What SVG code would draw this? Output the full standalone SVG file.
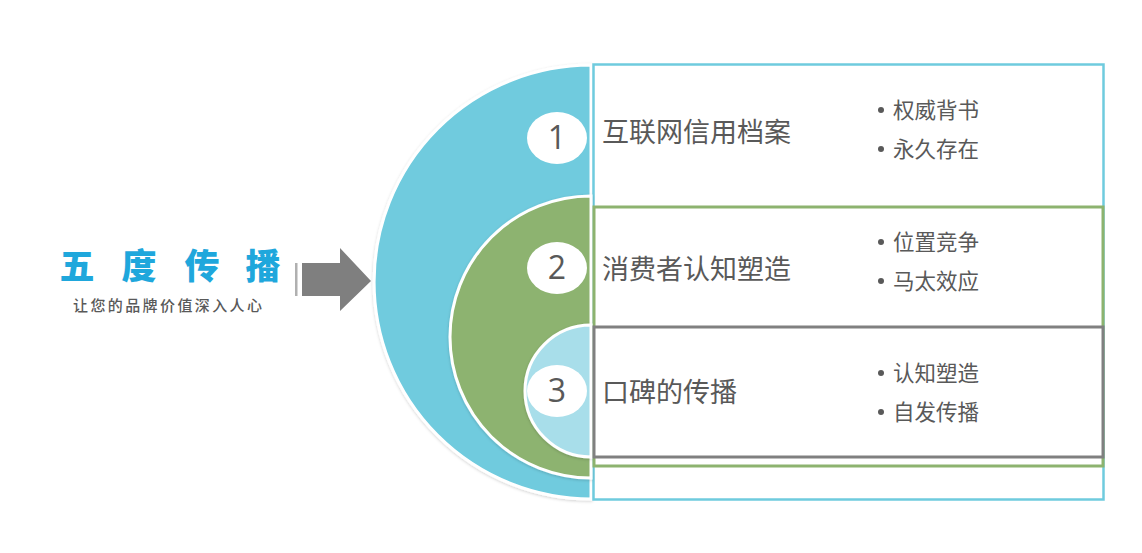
<svg xmlns="http://www.w3.org/2000/svg" width="1142" height="553" viewBox="0 0 1142 553">
<style>
.t{font-family:"Liberation Sans","Noto Sans CJK SC",sans-serif;fill:#595959}
.title{font-size:27px}
.bul{font-size:21.5px}
.num{font-family:"Open Sans","Liberation Sans",sans-serif;font-size:32px;fill:#595959;text-anchor:middle}
.disc{stroke:#fff;stroke-width:3}
.oval{fill:#fff}
.dot{fill:#595959}
.head{font-family:"Noto Sans CJK SC",sans-serif;font-weight:900;font-size:35px;fill:#1FA7DC;text-anchor:middle}
</style>
<defs>
<filter id="sh" x="-10%" y="-10%" width="120%" height="120%">
<feDropShadow dx="0" dy="1" stdDeviation="1.5" flood-color="#000" flood-opacity="0.18"/>
</filter>
</defs>
<rect width="1142" height="553" fill="#fff"/>
<g id="title">
<text class="head" x="77" y="279">五</text>
<text class="head" x="139" y="279">度</text>
<text class="head" x="202" y="279">传</text>
<text class="head" x="263" y="279">播</text>
<text x="73" y="311" style="font-size:15px;letter-spacing:2.4px;font-family:'Noto Sans CJK SC',sans-serif;font-weight:500;fill:#595959">让您的品牌价值深入人心</text>
</g>
<g id="arrow">
<rect x="295" y="263" width="2.5" height="33" fill="#b0b0b0"/>
<path d="M302,263 H340 V248 L371,281 L340,311 V296 H302 Z" fill="#7f7f7f"/>
</g>
<g id="node1">
<path class="disc" d="M591,65 A217,217 0 0 0 591,499 Z" fill="#6FCBDE" filter="url(#sh)"/>
<rect x="593.5" y="64.5" width="510" height="435" fill="#fff" stroke="#6FCBDE" stroke-width="2.5"/>
<ellipse class="oval" cx="557" cy="138" rx="30" ry="26"/>
<text class="num" x="557" y="149">1</text>
<text class="t title" x="602" y="142">互联网信用档案</text>
<circle class="dot" cx="881" cy="110" r="3"/>
<text class="t bul" x="893" y="118">权威背书</text>
<circle class="dot" cx="881" cy="149" r="3"/>
<text class="t bul" x="893" y="157">永久存在</text>
</g>
<g id="node2">
<path class="disc" d="M591,196 A141,141 0 0 0 591,478 Z" fill="#8DB36F" filter="url(#sh)"/>
<rect x="594" y="207" width="509" height="259" fill="#fff" stroke="#8DB36F" stroke-width="3"/>
<ellipse class="oval" cx="557" cy="268" rx="30" ry="26"/>
<text class="num" x="557" y="279">2</text>
<text class="t title" x="602" y="279">消费者认知塑造</text>
<circle class="dot" cx="881" cy="242" r="3"/>
<text class="t bul" x="893" y="250">位置竞争</text>
<circle class="dot" cx="881" cy="281" r="3"/>
<text class="t bul" x="893" y="289">马太效应</text>
</g>
<g id="node3">
<path class="disc" d="M591,325 A66,66 0 0 0 591,457 Z" fill="#A8DEEA" filter="url(#sh)"/>
<rect x="594" y="327" width="509" height="130" fill="#fff" stroke="#808080" stroke-width="3"/>
<ellipse class="oval" cx="557" cy="391" rx="30" ry="26"/>
<text class="num" x="557" y="402">3</text>
<text class="t title" x="602" y="402">口碑的传播</text>
<circle class="dot" cx="881" cy="373" r="3"/>
<text class="t bul" x="893" y="381">认知塑造</text>
<circle class="dot" cx="881" cy="412" r="3"/>
<text class="t bul" x="893" y="420">自发传播</text>
</g>
<g id="connectors"></g>
</svg>
